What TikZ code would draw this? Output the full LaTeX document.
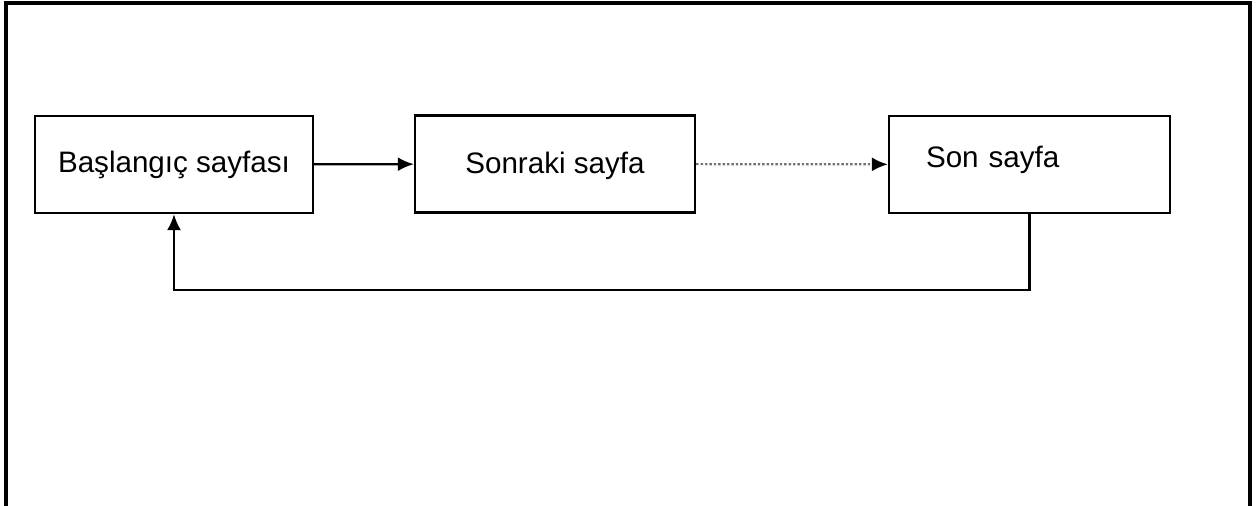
\documentclass[tikz,border=0pt]{standalone}
\usepackage{fontspec}
\setmainfont{Liberation Sans}
\usetikzlibrary{arrows.meta,positioning}

\begin{document}
\begin{tikzpicture}[
                x=0.5pt, y=-0.5pt,
                block/.style={draw, line width=1.2pt, minimum height=48.5pt, inner sep=0pt, align=center, font=\fontsize{14.8}{18}\selectfont},
                arrow/.style={-{Latex[length=8pt, width=7pt, color=black]}, line width=1.1pt},
                frame/.style={line width=1.6pt}
            ]

            \useasboundingbox (0,0) rectangle (1257,506);

            \draw[frame] (6,506) -- (6,3) -- (1250,3) -- (1250,506);

            \node[block, minimum width=139pt] (start) at (174,164.5) {Başlangıç sayfası};

            \node[block, minimum width=140pt, text height=13pt] (next) at (555,164) {Sonraki sayfa};

            \node[block, text width=103.5pt, inner xsep=18.5pt, align=left, text depth=8pt] (last) at (1029.5,164.5) {Son sayfa};

            \draw[arrow] (start) -- (next);
            \draw[arrow, dash pattern=on 1.2pt off 1pt, draw=black!55] (next) -- (last);
            \draw[arrow] (last.south) -- ++(0,76) -| (start.south);

        \end{tikzpicture}
\end{document}
